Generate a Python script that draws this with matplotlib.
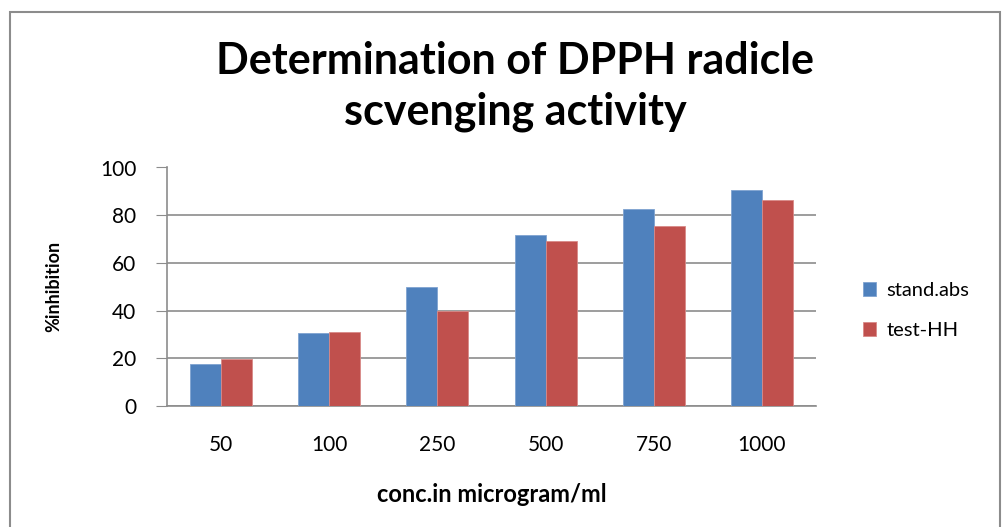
import matplotlib
matplotlib.use("Agg")
import matplotlib.pyplot as plt
import numpy as np
from matplotlib.patches import Rectangle

# data
concs = ["50", "100", "250", "500", "750", "1000"]
stand_abs = [17.8, 30.4, 49.9, 71.9, 82.7, 90.5]
test_hh = [19.7, 30.9, 40.0, 69.1, 75.4, 86.2]

plt.rcParams['font.family'] = ['Lato', 'DejaVu Sans']

fig = plt.figure(figsize=(10.08, 5.27), dpi=100)
# outer chart border
fig.patches.append(Rectangle((10/1008, -0.05), 990/1008, 1 - 12/527 + 0.05,
                             transform=fig.transFigure, fill=False,
                             edgecolor="#8c8c8c", linewidth=1.5))

ax = fig.add_axes([167/1008, 1 - 406/527, 649/1008, (406 - 167.5)/527])

x = np.arange(len(concs))
w = 0.287
ax.bar(x - w/2, stand_abs, w, color="#4F81BD", edgecolor="#7FA3D0",
       linewidth=0.6, label="stand.abs", zorder=3)
ax.bar(x + w/2, test_hh, w, color="#C0504D", edgecolor="#D88A88",
       linewidth=0.6, label="test-HH", zorder=3)

ax.set_xlim(-0.5, len(concs) - 0.5)
ax.set_ylim(0, 100)
ax.set_yticks(range(0, 101, 20))
ax.set_xticks(x)
ax.set_xticklabels(concs)
ax.yaxis.grid(True, color="#8c8c8c", linewidth=1.2, zorder=0)
for s in ["top", "right"]:
    ax.spines[s].set_visible(False)
ax.spines["left"].set_color("#8c8c8c")
ax.spines["bottom"].set_color("#8c8c8c")
ax.spines["left"].set_linewidth(1.2)
ax.spines["bottom"].set_linewidth(1.2)
ax.tick_params(axis="y", length=8, color="#8c8c8c", labelsize=15, pad=14)
ax.tick_params(axis="x", length=0, labelsize=15, pad=21)

ax.set_ylabel("%inhibition", fontsize=13, fontweight="bold", labelpad=27)
ax.set_xlabel("conc.in microgram/ml", fontsize=17, fontweight="bold", labelpad=20)

fig.text(0.511, 0.835, "Determination of DPPH radicle\nscvenging activity",
         ha="center", va="center", fontsize=31, fontweight="bold",
         linespacing=1.32)

ax.legend(loc="center left", bbox_to_anchor=(1.045, 0.4), frameon=False,
          fontsize=14.5, handlelength=0.65, handleheight=0.65,
          labelspacing=1.15, handletextpad=0.5)

fig.savefig("out.png", dpi=100)
